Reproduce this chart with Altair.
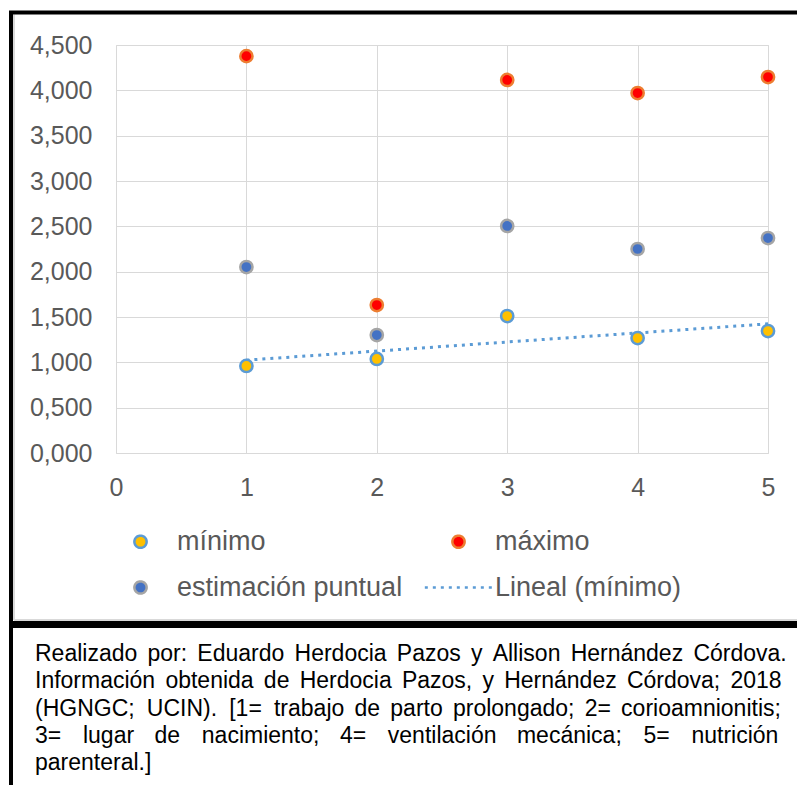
import altair as alt
import pandas as pd

# ---------------- data ----------------
categorias = [1, 2, 3, 4, 5]
minimo = [0.960, 1.037, 1.511, 1.268, 1.345]
maximo = [4.377, 1.632, 4.114, 3.970, 4.147]
estimacion = [2.051, 1.301, 2.504, 2.250, 2.371]
series = ["mínimo", "máximo", "estimación puntual", "Lineal (mínimo)"]
y_ticks = [0, 0.5, 1.0, 1.5, 2.0, 2.5, 3.0, 3.5, 4.0, 4.5]
x_ticks = [0, 1, 2, 3, 4, 5]

# caption (justified paragraph: word gaps widened with fixed-width unicode spaces)
S6 = " \u2006"          # normal space + six-per-em space
S4 = " \u2005"          # normal space + four-per-em space
W1 = "\u00a0\u2002\u2006"     # nbsp + en space + six-per-em
W2 = "\u00a0\u00a0\u2006\u2006"
caption_lines = [
    S6.join(["Realizado", "por:", "Eduardo", "Herdocia", "Pazos", "y", "Allison", "Hernández", "Córdova."]),
    S6.join(["Información", "obtenida", "de", "Herdocia", "Pazos,", "y", "Hernández", "Córdova;", "2018"]),
    "(HGNGC;" + S4 + "UCIN)." + S4 + "[1=" + S4 + "trabajo" + S6 + "de" + S6 + "parto" + S6
    + "prolongado;" + S6 + "2=" + S6 + "corioamnionitis;",
    "3=" + W1 + "lugar" + W2 + "de" + W1 + "nacimiento;" + W2 + "4=" + W1 + "ventilación"
    + W2 + "mecánica;" + W1 + "5=" + W1 + "nutrición",
    "parenteral.]",
]

rows = []
for name, vals in [(series[0], minimo), (series[1], maximo), (series[2], estimacion)]:
    for c, v in zip(categorias, vals):
        rows.append({"x": c, "y": v, "serie": name})
df = pd.DataFrame(rows)
df_min = pd.DataFrame({"x": categorias, "y": minimo})

FONT = "Liberation Sans"
GRAY = "#595959"

fill_scale = alt.Scale(domain=series, range=["#FFC000", "#FF0000", "#4472C4", "transparent"])
stroke_scale = alt.Scale(domain=series, range=["#5B9BD5", "#ED7D31", "#A5A5A5", "#5B9BD5"])
shape_scale = alt.Scale(domain=series, range=["circle", "circle", "circle", "M-5.5,0L5.5,0"])
dash_scale = alt.Scale(domain=series, range=[[1, 0], [1, 0], [1, 0], [3, 5]])

leg = alt.Legend(
    title=None, orient="none", legendX=11, legendY=483, columns=2, direction="horizontal",
    symbolSize=150, symbolStrokeWidth=2.5, symbolOpacity=1,
    labelFont=FONT, labelFontSize=27, labelColor=GRAY, labelOffset=23,
    columnPadding=16, rowPadding=18, padding=0, labelLimit=0,
)

x_enc = alt.X("x:Q", scale=alt.Scale(domain=[0, 5], nice=False),
              axis=alt.Axis(values=x_ticks, format="d", title=None, domain=False, ticks=False,
                            grid=True, gridColor="#D9D9D9", labelFont=FONT, labelFontSize=25,
                            labelColor=GRAY, labelPadding=22, labelFlush=False))
y_enc = alt.Y("y:Q", scale=alt.Scale(domain=[0, 4.5], nice=False),
              axis=alt.Axis(values=y_ticks, title=None, domain=False, ticks=False,
                            grid=True, gridColor="#D9D9D9", labelFont=FONT, labelFontSize=25,
                            labelColor=GRAY, labelPadding=24,
                            labelExpr="replace(format(datum.value, '.3f'), '.', ',')"))

trend = alt.Chart(df_min).transform_regression("x", "y").transform_calculate(
    serie="'Lineal (mínimo)'"
).mark_line(strokeWidth=3).encode(
    x=x_enc, y=y_enc,
    stroke=alt.Stroke("serie:N", scale=stroke_scale, legend=leg),
    strokeDash=alt.StrokeDash("serie:N", scale=dash_scale, legend=leg),
)

points = alt.Chart(df).mark_point(filled=True, strokeWidth=2.5, opacity=1, size=150).encode(
    x=x_enc, y=y_enc,
    fill=alt.Fill("serie:N", scale=fill_scale, legend=leg),
    stroke=alt.Stroke("serie:N", scale=stroke_scale, legend=leg),
    shape=alt.Shape("serie:N", scale=shape_scale, legend=leg),
)

frame_src = alt.Chart(pd.DataFrame({"k": [0]}))
left_bar = frame_src.mark_rule(color="black", strokeWidth=4).encode(
    x=alt.value(-105), y=alt.value(-34), y2=alt.value(740))
top_bar = frame_src.mark_rule(color="black", strokeWidth=4).encode(
    x=alt.value(-107), x2=alt.value(681), y=alt.value(-32.5))
mid_bar = frame_src.mark_rule(color="black", strokeWidth=7).encode(
    x=alt.value(-107), x2=alt.value(681), y=alt.value(579.5))
inner_v = frame_src.mark_rule(color="#D9D9D9", strokeWidth=2).encode(
    x=alt.value(-102), y=alt.value(-30.5), y2=alt.value(575))
inner_h = frame_src.mark_rule(color="#D9D9D9", strokeWidth=2).encode(
    x=alt.value(-102), x2=alt.value(681), y=alt.value(575))

caption = frame_src.mark_text(
    align="left", baseline="top", font=FONT, fontSize=23,
    lineHeight=27.3, color="black",
).encode(x=alt.value(-81), y=alt.value(598), text=alt.value(caption_lines))

chart = alt.layer(
    inner_v, inner_h, trend, points, left_bar, top_bar, mid_bar, caption
).properties(
    width=652, height=408,
    padding={"left": 116, "top": 45, "right": 29, "bottom": 332},
    autosize=alt.AutoSizeParams(type="none"),
).configure_view(stroke=None).configure(background="white")

chart.save("out.html", embed_options={"renderer": "svg", "actions": False})
